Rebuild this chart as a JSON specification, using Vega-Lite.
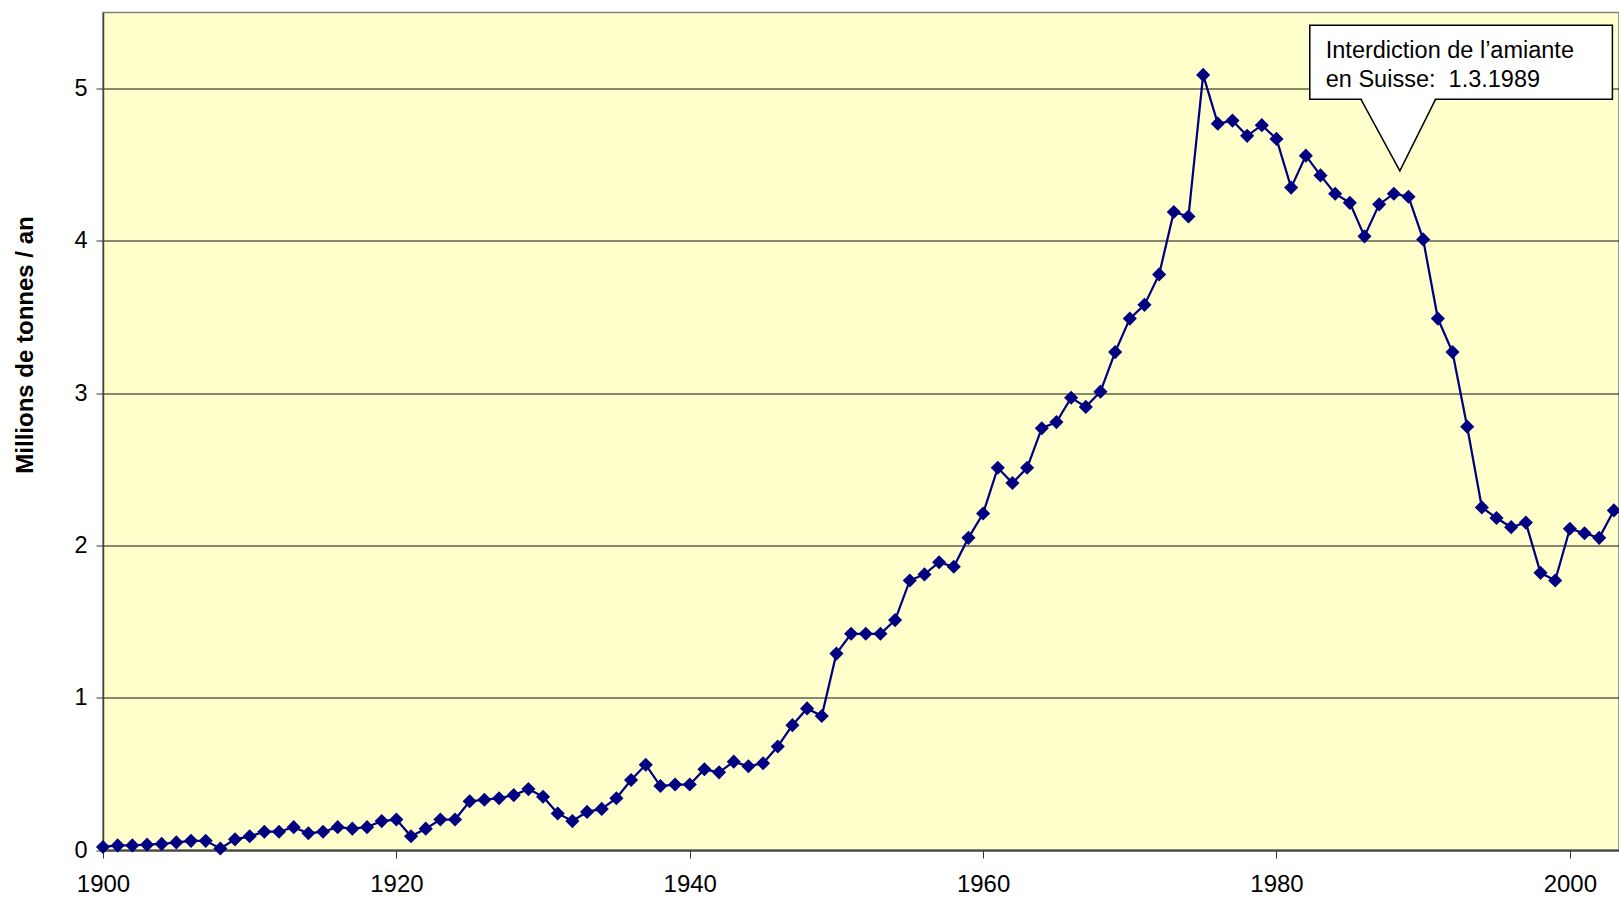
{
  "$schema": "https://vega.github.io/schema/vega-lite/v6.json",
  "width": 1516,
  "height": 837.5,
  "autosize": {"type": "none"},
  "padding": {"left": 103, "top": 12.5, "right": 0, "bottom": 49},
  "background": "white",
  "config": {
    "font": "Liberation Sans",
    "view": {"fill": "#FFFFCC", "stroke": "#808080", "strokeWidth": 1.5}
  },
  "datasets": {
    "main": [
      {"year": 1900, "value": 0.02}, {"year": 1901, "value": 0.03}, {"year": 1902, "value": 0.03},
      {"year": 1903, "value": 0.035}, {"year": 1904, "value": 0.04}, {"year": 1905, "value": 0.05},
      {"year": 1906, "value": 0.06}, {"year": 1907, "value": 0.06}, {"year": 1908, "value": 0.01},
      {"year": 1909, "value": 0.07}, {"year": 1910, "value": 0.09}, {"year": 1911, "value": 0.12},
      {"year": 1912, "value": 0.12}, {"year": 1913, "value": 0.15}, {"year": 1914, "value": 0.11},
      {"year": 1915, "value": 0.12}, {"year": 1916, "value": 0.15}, {"year": 1917, "value": 0.14},
      {"year": 1918, "value": 0.15}, {"year": 1919, "value": 0.19}, {"year": 1920, "value": 0.2},
      {"year": 1921, "value": 0.09}, {"year": 1922, "value": 0.14}, {"year": 1923, "value": 0.2},
      {"year": 1924, "value": 0.2}, {"year": 1925, "value": 0.32}, {"year": 1926, "value": 0.33},
      {"year": 1927, "value": 0.34}, {"year": 1928, "value": 0.36}, {"year": 1929, "value": 0.4},
      {"year": 1930, "value": 0.35}, {"year": 1931, "value": 0.24}, {"year": 1932, "value": 0.19},
      {"year": 1933, "value": 0.25}, {"year": 1934, "value": 0.27}, {"year": 1935, "value": 0.34},
      {"year": 1936, "value": 0.46}, {"year": 1937, "value": 0.56}, {"year": 1938, "value": 0.42},
      {"year": 1939, "value": 0.43}, {"year": 1940, "value": 0.43}, {"year": 1941, "value": 0.53},
      {"year": 1942, "value": 0.51}, {"year": 1943, "value": 0.58}, {"year": 1944, "value": 0.55},
      {"year": 1945, "value": 0.57}, {"year": 1946, "value": 0.68}, {"year": 1947, "value": 0.82},
      {"year": 1948, "value": 0.93}, {"year": 1949, "value": 0.88}, {"year": 1950, "value": 1.29},
      {"year": 1951, "value": 1.42}, {"year": 1952, "value": 1.42}, {"year": 1953, "value": 1.42},
      {"year": 1954, "value": 1.51}, {"year": 1955, "value": 1.77}, {"year": 1956, "value": 1.81},
      {"year": 1957, "value": 1.89}, {"year": 1958, "value": 1.86}, {"year": 1959, "value": 2.05},
      {"year": 1960, "value": 2.21}, {"year": 1961, "value": 2.51}, {"year": 1962, "value": 2.41},
      {"year": 1963, "value": 2.51}, {"year": 1964, "value": 2.77}, {"year": 1965, "value": 2.81},
      {"year": 1966, "value": 2.97}, {"year": 1967, "value": 2.91}, {"year": 1968, "value": 3.01},
      {"year": 1969, "value": 3.27}, {"year": 1970, "value": 3.49}, {"year": 1971, "value": 3.58},
      {"year": 1972, "value": 3.78}, {"year": 1973, "value": 4.19}, {"year": 1974, "value": 4.16},
      {"year": 1975, "value": 5.09}, {"year": 1976, "value": 4.77}, {"year": 1977, "value": 4.79},
      {"year": 1978, "value": 4.69}, {"year": 1979, "value": 4.76}, {"year": 1980, "value": 4.67},
      {"year": 1981, "value": 4.35}, {"year": 1982, "value": 4.56}, {"year": 1983, "value": 4.43},
      {"year": 1984, "value": 4.31}, {"year": 1985, "value": 4.25}, {"year": 1986, "value": 4.03},
      {"year": 1987, "value": 4.24}, {"year": 1988, "value": 4.31}, {"year": 1989, "value": 4.29},
      {"year": 1990, "value": 4.01}, {"year": 1991, "value": 3.49}, {"year": 1992, "value": 3.27},
      {"year": 1993, "value": 2.78}, {"year": 1994, "value": 2.25}, {"year": 1995, "value": 2.18},
      {"year": 1996, "value": 2.12}, {"year": 1997, "value": 2.15}, {"year": 1998, "value": 1.82},
      {"year": 1999, "value": 1.77}, {"year": 2000, "value": 2.11}, {"year": 2001, "value": 2.08},
      {"year": 2002, "value": 2.05}, {"year": 2003, "value": 2.23}
    ],
    "box": [{"x": 1982.27, "x2": 2002.9, "y": 5.417, "y2": 4.931}],
    "tri": [
      {"x": 1985.75, "y": 4.945, "y2": 4.945},
      {"x": 1988.41, "y": 4.945, "y2": 4.46},
      {"x": 1990.85, "y": 4.945, "y2": 4.945}
    ],
    "triline": [
      {"x": 1985.75, "y": 4.931, "o": 1},
      {"x": 1988.41, "y": 4.46, "o": 2},
      {"x": 1990.85, "y": 4.931, "o": 3}
    ],
    "txt": [
      {"x": 1983.36, "y": 5.2, "t": "Interdiction de l’amiante"},
      {"x": 1983.36, "y": 5.01, "t": "en Suisse: \u00a01.3.1989"}
    ]
  },
  "layer": [
    {
      "data": {"name": "main"},
      "mark": {"type": "line", "color": "#000080", "strokeWidth": 2.25},
      "encoding": {
        "x": {
          "field": "year", "type": "quantitative",
          "scale": {"domain": [1900, 2003.35], "nice": false, "zero": false},
          "axis": {
            "title": null, "values": [1900, 1920, 1940, 1960, 1980, 2000], "format": "d",
            "grid": false, "labelFontSize": 24, "labelColor": "black", "tickSize": 8,
            "tickColor": "#333", "domainColor": "#444", "domainWidth": 1.5,
            "labelPadding": 14, "labelFlush": false
          }
        },
        "y": {
          "field": "value", "type": "quantitative",
          "scale": {"domain": [0, 5.5], "nice": false},
          "axis": {
            "title": "Millions de tonnes / an", "titleFontSize": 24, "titleFontWeight": "bold",
            "titleColor": "black", "titleX": -78, "titleY": 332, "titleAngle": -90,
            "titleAlign": "center", "titleBaseline": "middle",
            "values": [0, 1, 2, 3, 4, 5], "format": "d", "grid": true, "gridColor": "#111", "gridWidth": 1,
            "labelFontSize": 23.5, "labelColor": "black", "tickSize": 7, "tickColor": "#333",
            "labelPadding": 9, "domainColor": "#444", "domainWidth": 1.5
          }
        }
      }
    },
    {
      "data": {"name": "main"},
      "mark": {"type": "point", "shape": "diamond", "filled": true, "size": 200, "color": "#000080", "opacity": 1},
      "encoding": {
        "x": {"field": "year", "type": "quantitative"},
        "y": {"field": "value", "type": "quantitative"}
      }
    },
    {
      "data": {"name": "box"},
      "mark": {"type": "rect", "fill": "white", "stroke": "black", "strokeWidth": 1.5},
      "encoding": {
        "x": {"field": "x", "type": "quantitative"},
        "x2": {"field": "x2"},
        "y": {"field": "y", "type": "quantitative"},
        "y2": {"field": "y2"}
      }
    },
    {
      "data": {"name": "tri"},
      "mark": {"type": "area", "fill": "white", "opacity": 1, "interpolate": "linear"},
      "encoding": {
        "x": {"field": "x", "type": "quantitative"},
        "y": {"field": "y", "type": "quantitative"},
        "y2": {"field": "y2"}
      }
    },
    {
      "data": {"name": "triline"},
      "mark": {"type": "line", "color": "black", "strokeWidth": 1.5},
      "encoding": {
        "x": {"field": "x", "type": "quantitative"},
        "y": {"field": "y", "type": "quantitative"},
        "order": {"field": "o"}
      }
    },
    {
      "data": {"name": "txt"},
      "mark": {"type": "text", "align": "left", "baseline": "alphabetic", "fontSize": 23.5, "color": "black"},
      "encoding": {
        "x": {"field": "x", "type": "quantitative"},
        "y": {"field": "y", "type": "quantitative"},
        "text": {"field": "t"}
      }
    }
  ]
}
